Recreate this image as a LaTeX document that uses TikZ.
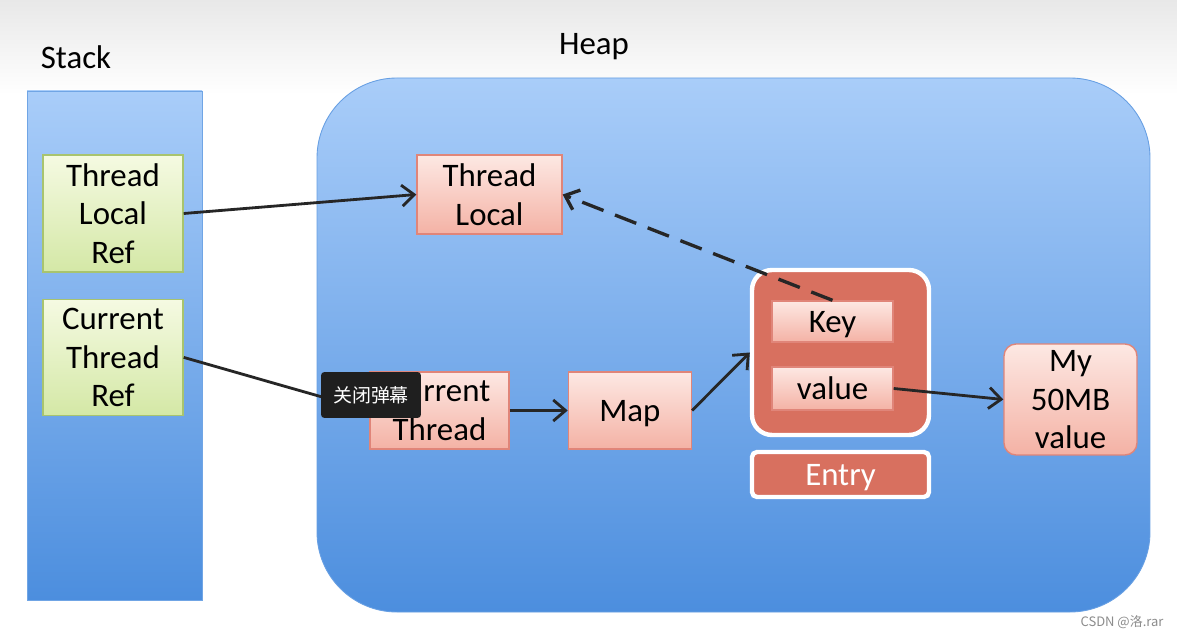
\documentclass[tikz,border=0pt]{standalone}
\usepackage{fontspec}
\setmainfont{Carlito}
\newfontfamily\cjkfont{Noto Sans CJK SC}
\usetikzlibrary{positioning,arrows.meta}
\definecolor{stackTop}{HTML}{A9CDF9}
\definecolor{stackBot}{HTML}{4C8EDE}
\definecolor{pinkTop}{HTML}{FDE8E3}
\definecolor{pinkBot}{HTML}{F4B2A5}
\definecolor{pinkLine}{HTML}{E08579}
\definecolor{greenTop}{HTML}{F5FAE2}
\definecolor{greenBot}{HTML}{D4E8A6}
\definecolor{greenLine}{HTML}{A8C46E}
\definecolor{entryRed}{HTML}{D8705F}
\definecolor{arrowInk}{HTML}{262626}
\tikzset{
  txt/.style={font=\fontsize{18.7}{22.1}\selectfont,align=center,inner sep=0pt,text depth=0pt},
  greenbox/.style={txt,draw=greenLine,line width=0.8pt,top color=greenTop,bottom color=greenBot,minimum width=2.8cm},
  pinkbox/.style={txt,draw=pinkLine,line width=0.8pt,top color=pinkTop,bottom color=pinkBot},
  link/.style={draw=arrowInk,line width=1.6pt,-{Straight Barb[length=7pt,width=12pt]}}
}
\begin{document}
\begin{tikzpicture}[x=0.02cm,y=-0.02cm]
\useasboundingbox (0,0) rectangle (1177,638);
\fill[white] (0,0) rectangle (1177,638);
\shade[top color=black!9,bottom color=white] (0,0) rectangle (1177,95);
\node[txt](NS) at (76,57) {Stack};
\node[txt](NH) at (594,44) {Heap};
\draw[draw=stackBot!80!white,line width=0.5pt,top color=stackTop,bottom color=stackBot] (27,91) rectangle (202,600);
\draw[draw=stackBot!85!white,line width=0.5pt,top color=stackTop,bottom color=stackBot,rounded corners=1.6cm] (317,78) rectangle (1150,612);
\node[greenbox,minimum height=2.34cm](NS1) at (113,213.5){Thread\\Local\\Ref};
\node[greenbox,minimum height=2.32cm,below=0.52cm of NS1](NS2){Current\\Thread\\Ref};
\node[pinkbox,minimum width=2.9cm,minimum height=1.58cm](NH1) at (489.5,194.5){Thread\\Local};
\node[pinkbox,minimum width=2.78cm,minimum height=1.54cm](NH2) at (439.5,410.5){Current\\Thread};
\node[pinkbox,minimum width=2.46cm,minimum height=1.54cm,right=1.16cm of NH2](NH3){Map};
\node[draw=white,line width=2.5pt,fill=entryRed,rounded corners=0.4cm,minimum width=3.54cm,minimum height=3.3cm](NE) at (840.5,352.5){};
\node[pinkbox,minimum width=2.42cm,minimum height=0.82cm](NK) at (832.5,321.5){Key};
\node[pinkbox,minimum width=2.42cm,minimum height=0.86cm](NV) at (832.5,388.5){value};
\node[txt,draw=white,line width=2.5pt,fill=entryRed,rounded corners=0.1cm,minimum width=3.54cm,minimum height=0.9cm,text=white](NEL) at (840.5,474.5){Entry};
\node[pinkbox,rounded corners=0.24cm,minimum width=2.66cm,minimum height=2.22cm](NM) at (1070.5,399.5){My\\50MB\\value};
\draw[link] (NS1.east) -- (NH1.west);
\draw[link] (NS2.east) -- (NH2.west);
\draw[link] (NH2.east) -- (NH3.west);
\draw[link] (NH3.east) -- (NE.west);
\draw[link,line width=1.9pt,dash pattern=on 13pt off 7pt] (NK.north) -- (NH1.east);
\draw[link] (NV.east) -- (NM.west);
\node[fill=black!88,rounded corners=2pt,minimum width=2cm,minimum height=0.92cm,inner sep=0pt,text=white,font=\cjkfont\fontsize{10.8}{12}\selectfont](NT) at (371,395){关闭弹幕};
\node[text=black!45,inner sep=0pt,font=\cjkfont\fontsize{7.4}{9}\selectfont](NW) at (1122,622){CSDN @洛.rar};
\end{tikzpicture}
\end{document}
